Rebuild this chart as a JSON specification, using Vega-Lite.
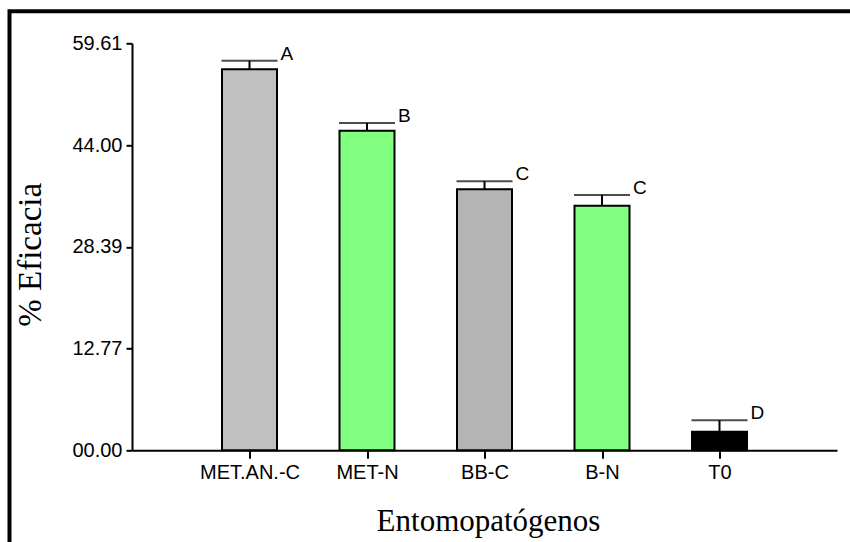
{
  "$schema": "https://vega.github.io/schema/vega-lite/v6.json",
  "autosize": {"type": "none"},
  "padding": {"left": 9.5, "top": 11.3, "right": -12, "bottom": -12},
  "width": 852.5,
  "height": 542.7,
  "background": "white",
  "config": {
    "view": {"stroke": "black", "strokeWidth": 4, "fill": "white"},
    "axis": {"grid": false, "domainColor": "black", "domainWidth": 2, "tickColor": "black", "tickWidth": 2, "labelColor": "black", "titleColor": "black"}
  },
  "data": {
    "values": [
      {"trat": "MET.AN.-C", "eficacia": 55.62, "sup": 56.94, "letra": "A", "color": "#c0c0c0"},
      {"trat": "MET-N", "eficacia": 46.2, "sup": 47.38, "letra": "B", "color": "#80ff80"},
      {"trat": "BB-C", "eficacia": 37.21, "sup": 38.44, "letra": "C", "color": "#b4b4b4"},
      {"trat": "B-N", "eficacia": 34.7, "sup": 36.34, "letra": "C", "color": "#80ff80"},
      {"trat": "T0", "eficacia": 0.02, "sup": 1.77, "letra": "D", "color": "#000000"}
    ]
  },
  "encoding": {
    "x": {
      "field": "trat", "type": "nominal", "sort": null,
      "scale": {"type": "point", "padding": 1, "range": [122.5, 827.5]},
      "axis": {
        "title": "Entomopatógenos", "labelAngle": 0, "offset": -103.7,
        "tickSize": 8, "labelPadding": 4,
        "labelFont": "Liberation Sans", "labelFontSize": 20,
        "titleFont": "Liberation Serif", "titleFontSize": 31, "titleFontWeight": "normal",
        "titleX": 478.5, "titleY": 80, "titleBaseline": "alphabetic", "titleAlign": "center"
      }
    }
  },
  "layer": [
    {
      "mark": {"type": "bar", "size": 55, "stroke": "black", "strokeWidth": 2},
      "encoding": {
        "y": {
          "field": "eficacia", "type": "quantitative",
          "scale": {"domain": [-2.83, 59.61], "zero": false, "nice": false, "range": [439, 32]},
          "axis": {
            "title": "% Eficacia", "offset": -122.5,
            "values": [-2.83, 12.77, 28.39, 44.0, 59.61],
            "labelExpr": "datum.value < 0 ? '00.00' : format(datum.value, '.2f')",
            "tickSize": 6, "labelPadding": 4,
            "labelFont": "Liberation Sans", "labelFontSize": 20,
            "titleFont": "Liberation Serif", "titleFontSize": 33, "titleFontWeight": "normal",
            "titleX": -91.5, "titleY": 243, "titleBaseline": "alphabetic", "titleAlign": "center", "titleAngle": -90
          }
        },
        "y2": {"datum": -2.83},
        "fill": {"field": "color", "type": "nominal", "scale": null}
      }
    },
    {
      "mark": {"type": "rule", "color": "black", "strokeWidth": 2},
      "encoding": {
        "y": {"field": "eficacia", "type": "quantitative"},
        "y2": {"field": "sup"}
      }
    },
    {
      "mark": {"type": "tick", "color": "black", "size": 56, "thickness": 2},
      "encoding": {
        "y": {"field": "sup", "type": "quantitative"}
      }
    },
    {
      "mark": {"type": "text", "align": "left", "baseline": "alphabetic", "dx": 31, "dy": -1, "font": "Liberation Sans", "fontSize": 19, "color": "black"},
      "encoding": {
        "y": {"field": "sup", "type": "quantitative"},
        "text": {"field": "letra"}
      }
    }
  ]
}
